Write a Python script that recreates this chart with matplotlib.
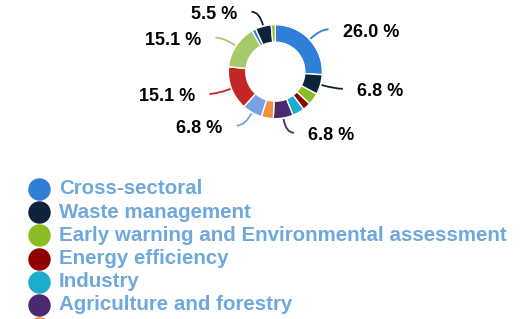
import numpy as np
from matplotlib import pyplot as plt
from matplotlib.path import Path
from matplotlib.patches import PathPatch

# project counts per sector (73 in total), read from the donut
sectors = ["Cross-sectoral", "Waste management",
           "Early warning and Environmental assessment", "Energy efficiency",
           "Industry", "Agriculture and forestry", "Water", "Transport",
           "Coastal zones", "Buildings", "Tourism", "Health", "Biodiversity"]
counts = [19, 5, 3, 2, 3, 5, 3, 5, 11, 11, 1, 4, 1]
colors = ['#2f7ed8', '#0d233a', '#8bbc21', '#910000', '#1aadce', '#492970',
          '#f28f43', '#77a1e5', '#c42525', '#a6c96a',
          '#2f7ed8', '#0d233a', '#8bbc21']

W, H = 531, 319
plt.rcParams['font.family'] = ['Liberation Sans', 'DejaVu Sans']
fig = plt.figure(figsize=(W / 100, H / 100), dpi=100)
ax = fig.add_axes([0, 0, 1, 1])

CX, CY, R = 275.3, H - 71.7, 47
wedges, _ = ax.pie(counts, colors=colors, startangle=90, counterclock=False,
                   radius=R, center=(CX, CY), frame=True,
                   wedgeprops=dict(width=17.5, edgecolor='white', linewidth=1))
ax.set_xlim(0, W)
ax.set_ylim(0, H)
ax.set_aspect('equal')
ax.axis('off')

total = sum(counts)
for w, c, col in zip(wedges, counts, colors):
    pct = 100.0 * c / total
    if pct < 5:
        continue
    mid = np.deg2rad((w.theta1 + w.theta2) / 2)
    ux, uy = np.cos(mid), np.sin(mid)
    side = 1 if ux >= 0 else -1
    p0 = (CX + (R + 1) * ux, CY + (R + 1) * uy)
    p1 = (CX + (R + 15) * ux, CY + (R + 15) * uy)
    p2 = (p1[0] + side * 8, p1[1])
    path = Path([p0, p1, p2], [Path.MOVETO, Path.CURVE3, Path.CURVE3])
    ax.add_patch(PathPatch(path, facecolor='none', edgecolor=col, lw=1.3))
    ax.text(p2[0] + side * 14, p1[1] - 3, f"{pct:.1f} %",
            ha='left' if side > 0 else 'right', va='center',
            fontsize=13, fontweight='bold', color='black')

# legend, drawn by hand (it runs off the bottom of the chart,
# only the top of the 7th marker is still visible)
for i in range(7):
    y = H - (189 + i * 23.2)
    ax.scatter([39], [y], s=230, color=colors[i], clip_on=True, zorder=3)
    if i < 6:
        ax.text(59, y, sectors[i], ha='left', va='center', fontsize=14.8,
                fontweight='bold', color='#6fa8dc')

plt.savefig("out.png", dpi=100)
